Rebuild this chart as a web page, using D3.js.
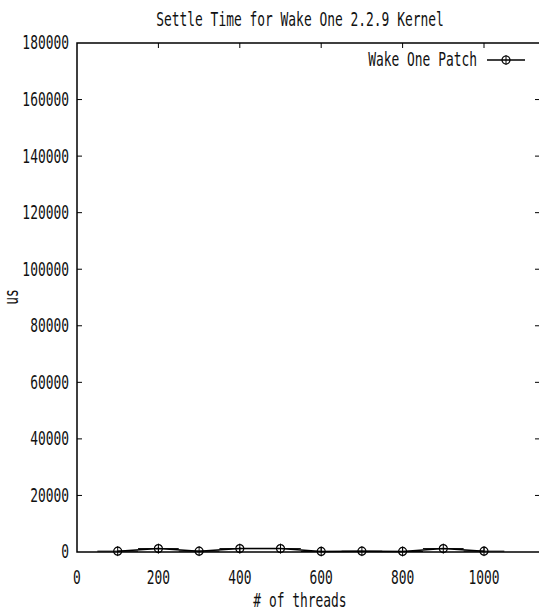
<!DOCTYPE html>
<html lang="en">
  <head>
    <meta charset="utf-8" />
    <title>Settle Time</title>
    <script src="https://d3js.org/d3.v7.min.js"></script>
    <style>
      body { margin: 0; background: #fff; }
      text { font-family: "DejaVu Sans Mono", monospace; font-size: 19px; fill: #111; }
    </style>
  </head>
  <body>
    <div id="container"></div>
    <script>
      // data
      var threads = [100, 200, 300, 400, 500, 600, 700, 800, 900, 1000];
      var settle = [300, 1200, 300, 1200, 1200, 200, 300, 200, 1200, 300];
      var xTicks = [0, 200, 400, 600, 800, 1000];
      var yTicks = [0, 20000, 40000, 60000, 80000, 100000, 120000, 140000, 160000, 180000];
      var seriesName = "Wake One Patch";

      var width = 539;
      var height = 612;

      var plotLeft = 77, plotTop = 43, plotBottom = 552, plotRight = 540;

      var x = d3.scaleLinear().domain([0, 1000]).range([plotLeft, 484]);
      var y = d3.scaleLinear().domain([0, 180000]).range([plotBottom, plotTop]);

      var svg = d3
        .select("#container")
        .append("svg")
        .attr("width", width)
        .attr("height", height);

      // squeezed text like the old gnuplot pixel font
      function label(px, py, str, anchor) {
        return svg
          .append("text")
          .attr("transform", "translate(" + px + "," + py + ") scale(0.68,1)")
          .attr("text-anchor", anchor || "middle")
          .attr("dominant-baseline", "central")
          .text(str);
      }

      // frame
      svg
        .append("rect")
        .attr("x", plotLeft)
        .attr("y", plotTop)
        .attr("width", plotRight - plotLeft)
        .attr("height", plotBottom - plotTop)
        .style("fill", "none")
        .style("stroke", "#000")
        .style("stroke-width", 1.5);

      // x ticks (bottom and top)
      xTicks.forEach(function (t) {
        if (t > 0) {
          svg.append("line")
            .attr("x1", x(t)).attr("x2", x(t))
            .attr("y1", plotTop).attr("y2", plotTop + 5)
            .style("stroke", "#000");
          svg.append("line")
            .attr("x1", x(t)).attr("x2", x(t))
            .attr("y1", plotBottom).attr("y2", plotBottom - 5)
            .style("stroke", "#000");
        }
        label(x(t), 578, t);
      });

      // y ticks (left and right)
      yTicks.forEach(function (t) {
        if (t > 0 && t < 180000) {
          svg.append("line")
            .attr("x1", plotLeft).attr("x2", plotLeft + 5)
            .attr("y1", y(t)).attr("y2", y(t))
            .style("stroke", "#000");
          svg.append("line")
            .attr("x1", plotRight - 5).attr("x2", plotRight)
            .attr("y1", y(t)).attr("y2", y(t))
            .style("stroke", "#000");
        }
        label(69, y(t), t, "end");
      });

      label(300, 20, "Settle Time for Wake One 2.2.9 Kernel");
      label(300, 601, "# of threads");
      svg
        .append("text")
        .attr("transform", "translate(12,297) rotate(-90) scale(0.68,1)")
        .attr("text-anchor", "middle")
        .attr("dominant-baseline", "central")
        .text("us");

      var pts = threads.map(function (d, i) { return [d, settle[i]]; });

      var line = d3.line()
        .x(function (d) { return x(d[0]); })
        .y(function (d) { return y(d[1]); });

      svg.append("path")
        .datum(pts)
        .attr("d", line)
        .style("fill", "none")
        .style("stroke", "#000")
        .style("stroke-width", 1.5);

      // horizontal bars around each point
      svg.selectAll(".xbar")
        .data(pts)
        .enter()
        .append("line")
        .attr("class", "xbar")
        .attr("x1", function (d) { return x(d[0] - 50); })
        .attr("x2", function (d) { return x(d[0] + 50); })
        .attr("y1", function (d) { return y(d[1]); })
        .attr("y2", function (d) { return y(d[1]); })
        .style("stroke", "#000")
        .style("stroke-width", 1);

      function marker(g) {
        g.append("line")
          .attr("x1", 0).attr("x2", 0)
          .attr("y1", -5).attr("y2", 5)
          .style("stroke", "#000");
        g.append("circle")
          .attr("r", 4)
          .style("fill", "none")
          .style("stroke", "#000")
          .style("stroke-width", 1.2);
      }

      svg.selectAll(".pt")
        .data(pts)
        .enter()
        .append("g")
        .attr("class", "pt")
        .attr("transform", function (d) { return "translate(" + x(d[0]) + "," + y(d[1]) + ")"; })
        .each(function () { marker(d3.select(this)); });

      // legend
      label(477, 60, seriesName, "end");
      svg.append("line")
        .attr("x1", 487).attr("x2", 525)
        .attr("y1", 60).attr("y2", 60)
        .style("stroke", "#000")
        .style("stroke-width", 1.5);
      var lg = svg.append("g").attr("transform", "translate(506,60)");
      marker(lg);
    </script>
  </body>
</html>
